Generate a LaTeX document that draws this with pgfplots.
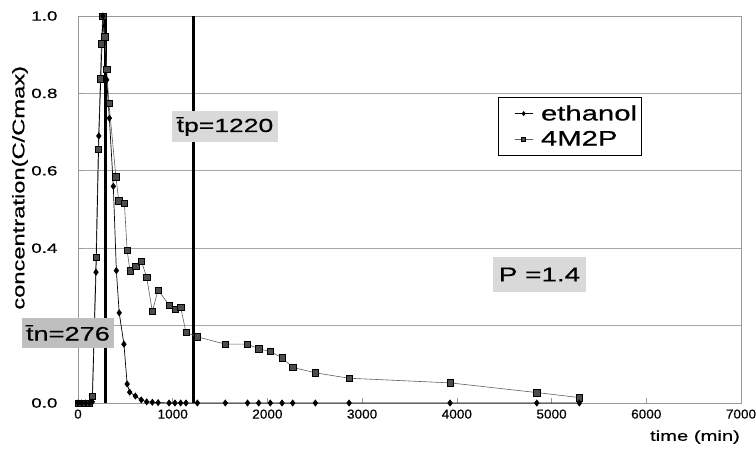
\documentclass[border=0pt]{standalone}
\usepackage{fontspec}
\setmainfont{Liberation Sans}
\newfontfamily\wide{Liberation Sans}[FakeStretch=1.4, FakeBold=0.6]
\newfontfamily\narrow{Liberation Sans}[FakeStretch=1.05, FakeBold=0.5]
\usepackage{pgfplots}
\usepackage{pgfplotstable}
\pgfplotsset{compat=1.18}

\pgfplotstableread{
t c
0 0
40 0
80 0
120 0
151 0.018
190 0.376
214 0.656
236 0.838
246 0.928
261 1.0
282 0.946
303 0.862
327 0.774
400 0.585
430 0.523
490 0.516
519 0.394
549 0.342
609 0.354
668 0.367
725 0.325
785 0.237
846 0.292
962 0.253
1024 0.242
1084 0.247
1140 0.183
1260 0.171
1555 0.152
1790 0.152
1908 0.140
2030 0.133
2154 0.117
2267 0.092
2506 0.078
2862 0.064
3928 0.052
4844 0.027
5293 0.014
}\mtwop

\pgfplotstableread{
t c
0 0
40 0
80 0
120 0
151 0.003
190 0.338
220 0.690
263 1.0
303 0.835
331 0.736
373 0.560
405 0.342
435 0.233
485 0.152
519 0.049
546 0.028
606 0.018
668 0.008
725 0.003
785 0.002
846 0.001
962 0
1024 0
1084 0
1140 0
1260 0
1555 0
1790 0
1908 0
2030 0
2154 0
2267 0
2506 0
2862 0
3928 0
4844 0
5293 0
}\eth

\begin{document}
\begin{tikzpicture}
\begin{axis}[
  at={(78bp,56bp)}, anchor=south west,
  scale only axis, width=663bp, height=387bp,
  xmin=0, xmax=7000, ymin=0, ymax=1,
  clip=false,
  axis line style={draw=gray!80, line width=0.8bp},
  xtick={0,1000,2000,3000,4000,5000,6000,7000},
  ytick={0,0.2,0.4,0.6,0.8,1.0},
  ymajorgrids, grid style={draw=gray!70, line width=0.8bp},
  tick align=inside, tick pos=left, major tick length=5bp,
  tick style={draw=gray!80, line width=0.6bp},
  scaled ticks=false,
  /pgf/number format/assume math mode=true,
  /pgf/number format/1000 sep={},
  xticklabel style={font=\narrow\fontsize{13}{14}\selectfont, yshift=-3bp},
  yticklabel style={font=\wide\fontsize{13.5}{15}\selectfont,
    /pgf/number format/fixed, /pgf/number format/fixed zerofill,
    /pgf/number format/precision=1, xshift=-17bp},
  xlabel={time (min)},
  xlabel style={at={(axis description cs:0.9306,-0.0879)}, anchor=center,
    font=\wide\fontsize{14.5}{16}\selectfont},
  ylabel={concentration(C/Cmax)},
  ylabel style={at={(axis description cs:-0.0875,0.556)}, anchor=center,
    font=\wide\fontsize{17}{19}\selectfont},
  legend style={at={(0.6335,0.7907)}, anchor=north west, draw=black,
    line width=0.6bp, fill=white, font=\wide\fontsize{21}{24}\selectfont,
    inner xsep=2bp, inner ysep=6bp, row sep=5bp},
  legend cell align=left,
  legend image code/.code={%
    \draw[opacity=0] (-14bp,0bp) -- (24bp,0bp);
    \draw[mark repeat=2,mark phase=2,#1,mark size=2bp]
    plot coordinates {(0bp,0bp) (9bp,0bp) (18bp,0bp)};},
  reverse legend,
]
\addplot[black, line width=2.6bp, forget plot] coordinates {(292,0) (292,1)};
\addplot[black, line width=2.6bp, forget plot] coordinates {(1218,0) (1218,1)};
\addplot[draw=gray!75!black, line width=0.6bp, mark=square*, mark size=3.2bp,
  mark options={fill=gray!60!black, draw=black, line width=0.5bp}] table {\mtwop};
\addlegendentry{4M2P}
\addplot[black, line width=0.7bp, mark=diamond*, mark size=3bp,
  mark options={fill=black}] table {\eth};
\addlegendentry{ethanol}
\coordinate (tn) at (axis cs:-106,0.181);
\coordinate (tp) at (axis cs:1552,0.7145);
\coordinate (pp) at (axis cs:4873,0.332);
\end{axis}
\node[fill=gray!50, minimum width=92bp, minimum height=30bp, inner sep=0pt,
  font=\wide\fontsize{19.5}{22}\selectfont] at (tn) {\={t}n=276};
\node[fill=gray!30, minimum width=106bp, minimum height=31bp, inner sep=0pt,
  font=\wide\fontsize{19}{22}\selectfont] at (tp) {\={t}p=1220};
\node[fill=gray!30, minimum width=93bp, minimum height=35bp, inner sep=0pt,
  font=\wide\fontsize{20}{22}\selectfont] at (pp) {P =1.4};
\pgfresetboundingbox
\path[use as bounding box] (0bp,0bp) rectangle (756bp,459bp);
\end{tikzpicture}
\end{document}
